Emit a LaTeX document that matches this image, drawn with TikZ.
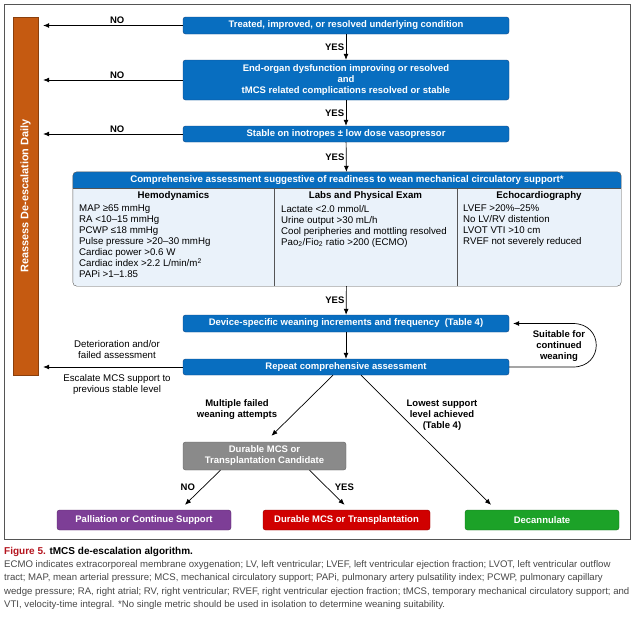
\documentclass[tikz,border=0pt]{standalone}
\usepackage{fontspec}
\setmainfont{Liberation Sans}
\usetikzlibrary{arrows.meta,calc}
\definecolor{mcsblue}{RGB}{8,110,192}
\definecolor{mcsbluedark}{RGB}{20,70,130}
\definecolor{reassesscol}{RGB}{197,90,17}
\definecolor{tablefill}{RGB}{234,242,250}
\definecolor{candgray}{RGB}{138,138,138}
\definecolor{palliatecol}{RGB}{125,62,150}
\definecolor{durablecol}{RGB}{208,0,0}
\definecolor{decanncol}{RGB}{28,162,40}
\definecolor{capred}{RGB}{180,20,30}
\definecolor{framecol}{RGB}{85,85,85}
\definecolor{captext}{RGB}{70,70,70}
\newcommand{\stepfont}{\fontsize{9.5}{11}\selectfont\bfseries}
\newcommand{\cellfont}{\fontsize{9.7}{11}\selectfont}

\begin{document}
\begin{tikzpicture}[x=1pt,y=-1pt,
  stepbox/.style={draw=mcsbluedark, fill=mcsblue, rounded corners=2.5pt, text=white,
    font=\stepfont, minimum width=326pt, inner sep=0pt, align=center},
  endbox/.style={draw=#1!70!black, fill=#1, rounded corners=2.5pt, text=white,
    font=\stepfont, minimum height=20pt, inner sep=0pt},
  arrow/.style={-{Latex[length=6pt,width=5pt]}, line width=0.7pt},
  steplabel/.style={font=\stepfont, align=center, inner sep=1.5pt},
  plainlabel/.style={font=\cellfont, align=center, inner sep=1.5pt}]
\useasboundingbox (0,0) rectangle (639,616);
\draw[framecol, line width=0.8pt] (4,4) rectangle (630,539);

% reassess bar
\node[draw=reassesscol!70!black, fill=reassesscol, minimum width=25pt, minimum height=358pt,
  inner sep=0pt, text=white, font=\fontsize{10.9}{12}\selectfont\bfseries] (reassess) at (25.5,196)
  {\rotatebox{90}{Reassess De-escalation Daily}};

% top checks
\node[stepbox, minimum height=17pt] (treated) at (346,25.5)
  {Treated, improved, or resolved underlying condition};
\node[stepbox, minimum height=40pt] (endorgan) at (346,80)
  {End-organ dysfunction improving or resolved\\and\\tMCS related complications resolved or stable};
\node[stepbox, minimum height=16pt] (stable) at (346,134)
  {Stable on inotropes ± low dose vasopressor};

\foreach \src in {treated,endorgan,stable}{
  \draw[arrow] (\src.west) -- ($(\src.west -| reassess.east)+(5,0)$)
    node[pos=0.47, above, steplabel] {NO};
}
\draw[arrow] (treated) -- (endorgan) node[midway, left, steplabel] {YES};
\draw[arrow] (endorgan) -- (stable) node[midway, left, steplabel] {YES};

% assessment table
\node[fill=tablefill, rounded corners=4pt, minimum width=548pt, minimum height=114pt,
  inner sep=0pt] (assess) at (347,229) {};
\begin{scope}
  \clip (assess.north west) rectangle ($(assess.north east)+(0,16)$);
  \fill[mcsblue, rounded corners=4pt] (assess.north west) rectangle (assess.south east);
\end{scope}
\draw[framecol, rounded corners=4pt] (assess.north west) rectangle (assess.south east);
\draw[framecol] ($(assess.north west)+(0,16)$) -- ($(assess.north east)+(0,16)$);
\foreach \cx in {274,457}
  \draw[framecol] (\cx,188) -- (\cx,286);
\node[text=white, font=\fontsize{9.7}{10}\selectfont\bfseries] (assesshead) at ($(assess.north)+(0,8)$)
  {Comprehensive assessment suggestive of readiness to wean mechanical circulatory support*};
\draw[arrow] (stable) -- (assess) node[midway, left, steplabel] {YES};

\node[font=\fontsize{9.7}{10}\selectfont\bfseries] (hemohead) at (173.5,196) {Hemodynamics};
\node[font=\fontsize{9.7}{10}\selectfont\bfseries] (labshead) at (365.5,196) {Labs and Physical Exam};
\node[font=\fontsize{9.7}{10}\selectfont\bfseries] (echohead) at (539,196) {Echocardiography};

\node[font=\cellfont, align=left, anchor=north west, inner sep=0pt] (hemo) at (79,205)
  {MAP ≥65 mmHg\\RA <10–15 mmHg\\PCWP ≤18 mmHg\\Pulse pressure >20–30 mmHg\\
   Cardiac power >0.6 W\\Cardiac index >2.2 L/min/m\textsuperscript{2}\\PAPi >1–1.85};
\node[font=\cellfont, align=left, anchor=north west, inner sep=0pt] (labs) at (281,205)
  {Lactate <2.0 mmol/L\\Urine output >30 mL/h\\Cool peripheries and mottling resolved\\
   Pao\textsubscript{2}/Fio\textsubscript{2} ratio >200 (ECMO)};
\node[font=\cellfont, align=left, anchor=north west, inner sep=0pt] (echo) at (463,205)
  {LVEF >20\%–25\%\\No LV/RV distention\\LVOT VTI >10 cm\\RVEF not severely reduced};

% weaning loop
\node[stepbox, minimum height=17pt] (device) at (346,323.5)
  {Device-specific weaning increments and frequency\ \ (Table 4)};
\node[stepbox, minimum height=16pt] (repeat) at (346,367)
  {Repeat comprehensive assessment};
\draw[arrow] (assess) -- (device) node[midway, left, steplabel] {YES};
\draw[arrow] (device) -- (repeat);
\draw[arrow] (repeat.west) -- ($(repeat.west -| reassess.east)+(5,0)$);
\node[plainlabel] (deterior) at (117,350) {Deterioration and/or\\failed assessment};
\node[plainlabel] (escalate) at (117,384) {Escalate MCS support to\\previous stable level};
\draw[arrow] (repeat.east) -- (573,367) .. controls (604,367) and (604,323.5) .. (573,323.5)
  -- ($(device.east)+(4,0)$);
\node[steplabel] (suitable) at (559,346) {Suitable for\\continued\\weaning};

% outcomes
\node[draw=candgray!70!black, fill=candgray, rounded corners=2.5pt, text=white, font=\stepfont,
  align=center, minimum width=163pt, minimum height=28pt, inner sep=0pt] (cand) at (264.5,456)
  {Durable MCS or\\Transplantation Candidate};
\node[endbox=palliatecol, minimum width=174pt] (palliate) at (144,520) {Palliation or Continue Support};
\node[endbox=durablecol, minimum width=167pt] (durable) at (346.5,520) {Durable MCS or Transplantation};
\node[endbox=decanncol, minimum width=154pt] (decann) at (542,520) {Decannulate};

\draw[arrow] ([xshift=-13pt]repeat.south) -- ([xshift=7pt,yshift=6pt]cand.north);
\node[steplabel] (multiple) at (237,410) {Multiple failed\\weaning attempts};
\draw[arrow] ([xshift=15pt]repeat.south) -- ([xshift=-51pt,yshift=5pt]decann.north);
\node[steplabel] (lowest) at (442,415) {Lowest support\\level achieved\\(Table 4)};
\draw[arrow] ([xshift=-44pt]cand.south) -- ([xshift=41pt,yshift=5pt]palliate.north)
  node[midway, left=6pt, steplabel] {NO};
\draw[arrow] ([xshift=45pt]cand.south) -- ([xshift=-2pt,yshift=5pt]durable.north)
  node[midway, right=6pt, steplabel] {YES};

% caption
\node[anchor=north west, align=left, inner sep=0pt, text=captext,
  font=\fontsize{9.6}{13.2}\selectfont] (caption) at (4,547)
  {{\fontsize{10}{12}\selectfont\bfseries\textcolor{capred}{Figure 5.} \textcolor{black}{tMCS de-escalation algorithm.}}\\
   ECMO indicates extracorporeal membrane oxygenation; LV, left ventricular; LVEF, left ventricular ejection fraction; LVOT, left ventricular outflow\\
   tract; MAP, mean arterial pressure; MCS, mechanical circulatory support; PAPi, pulmonary artery pulsatility index; PCWP, pulmonary capillary\\
   wedge pressure; RA, right atrial; RV, right ventricular; RVEF, right ventricular ejection fraction; tMCS, temporary mechanical circulatory support; and\\
   VTI, velocity-time integral. *No single metric should be used in isolation to determine weaning suitability.};
\end{tikzpicture}
\end{document}
